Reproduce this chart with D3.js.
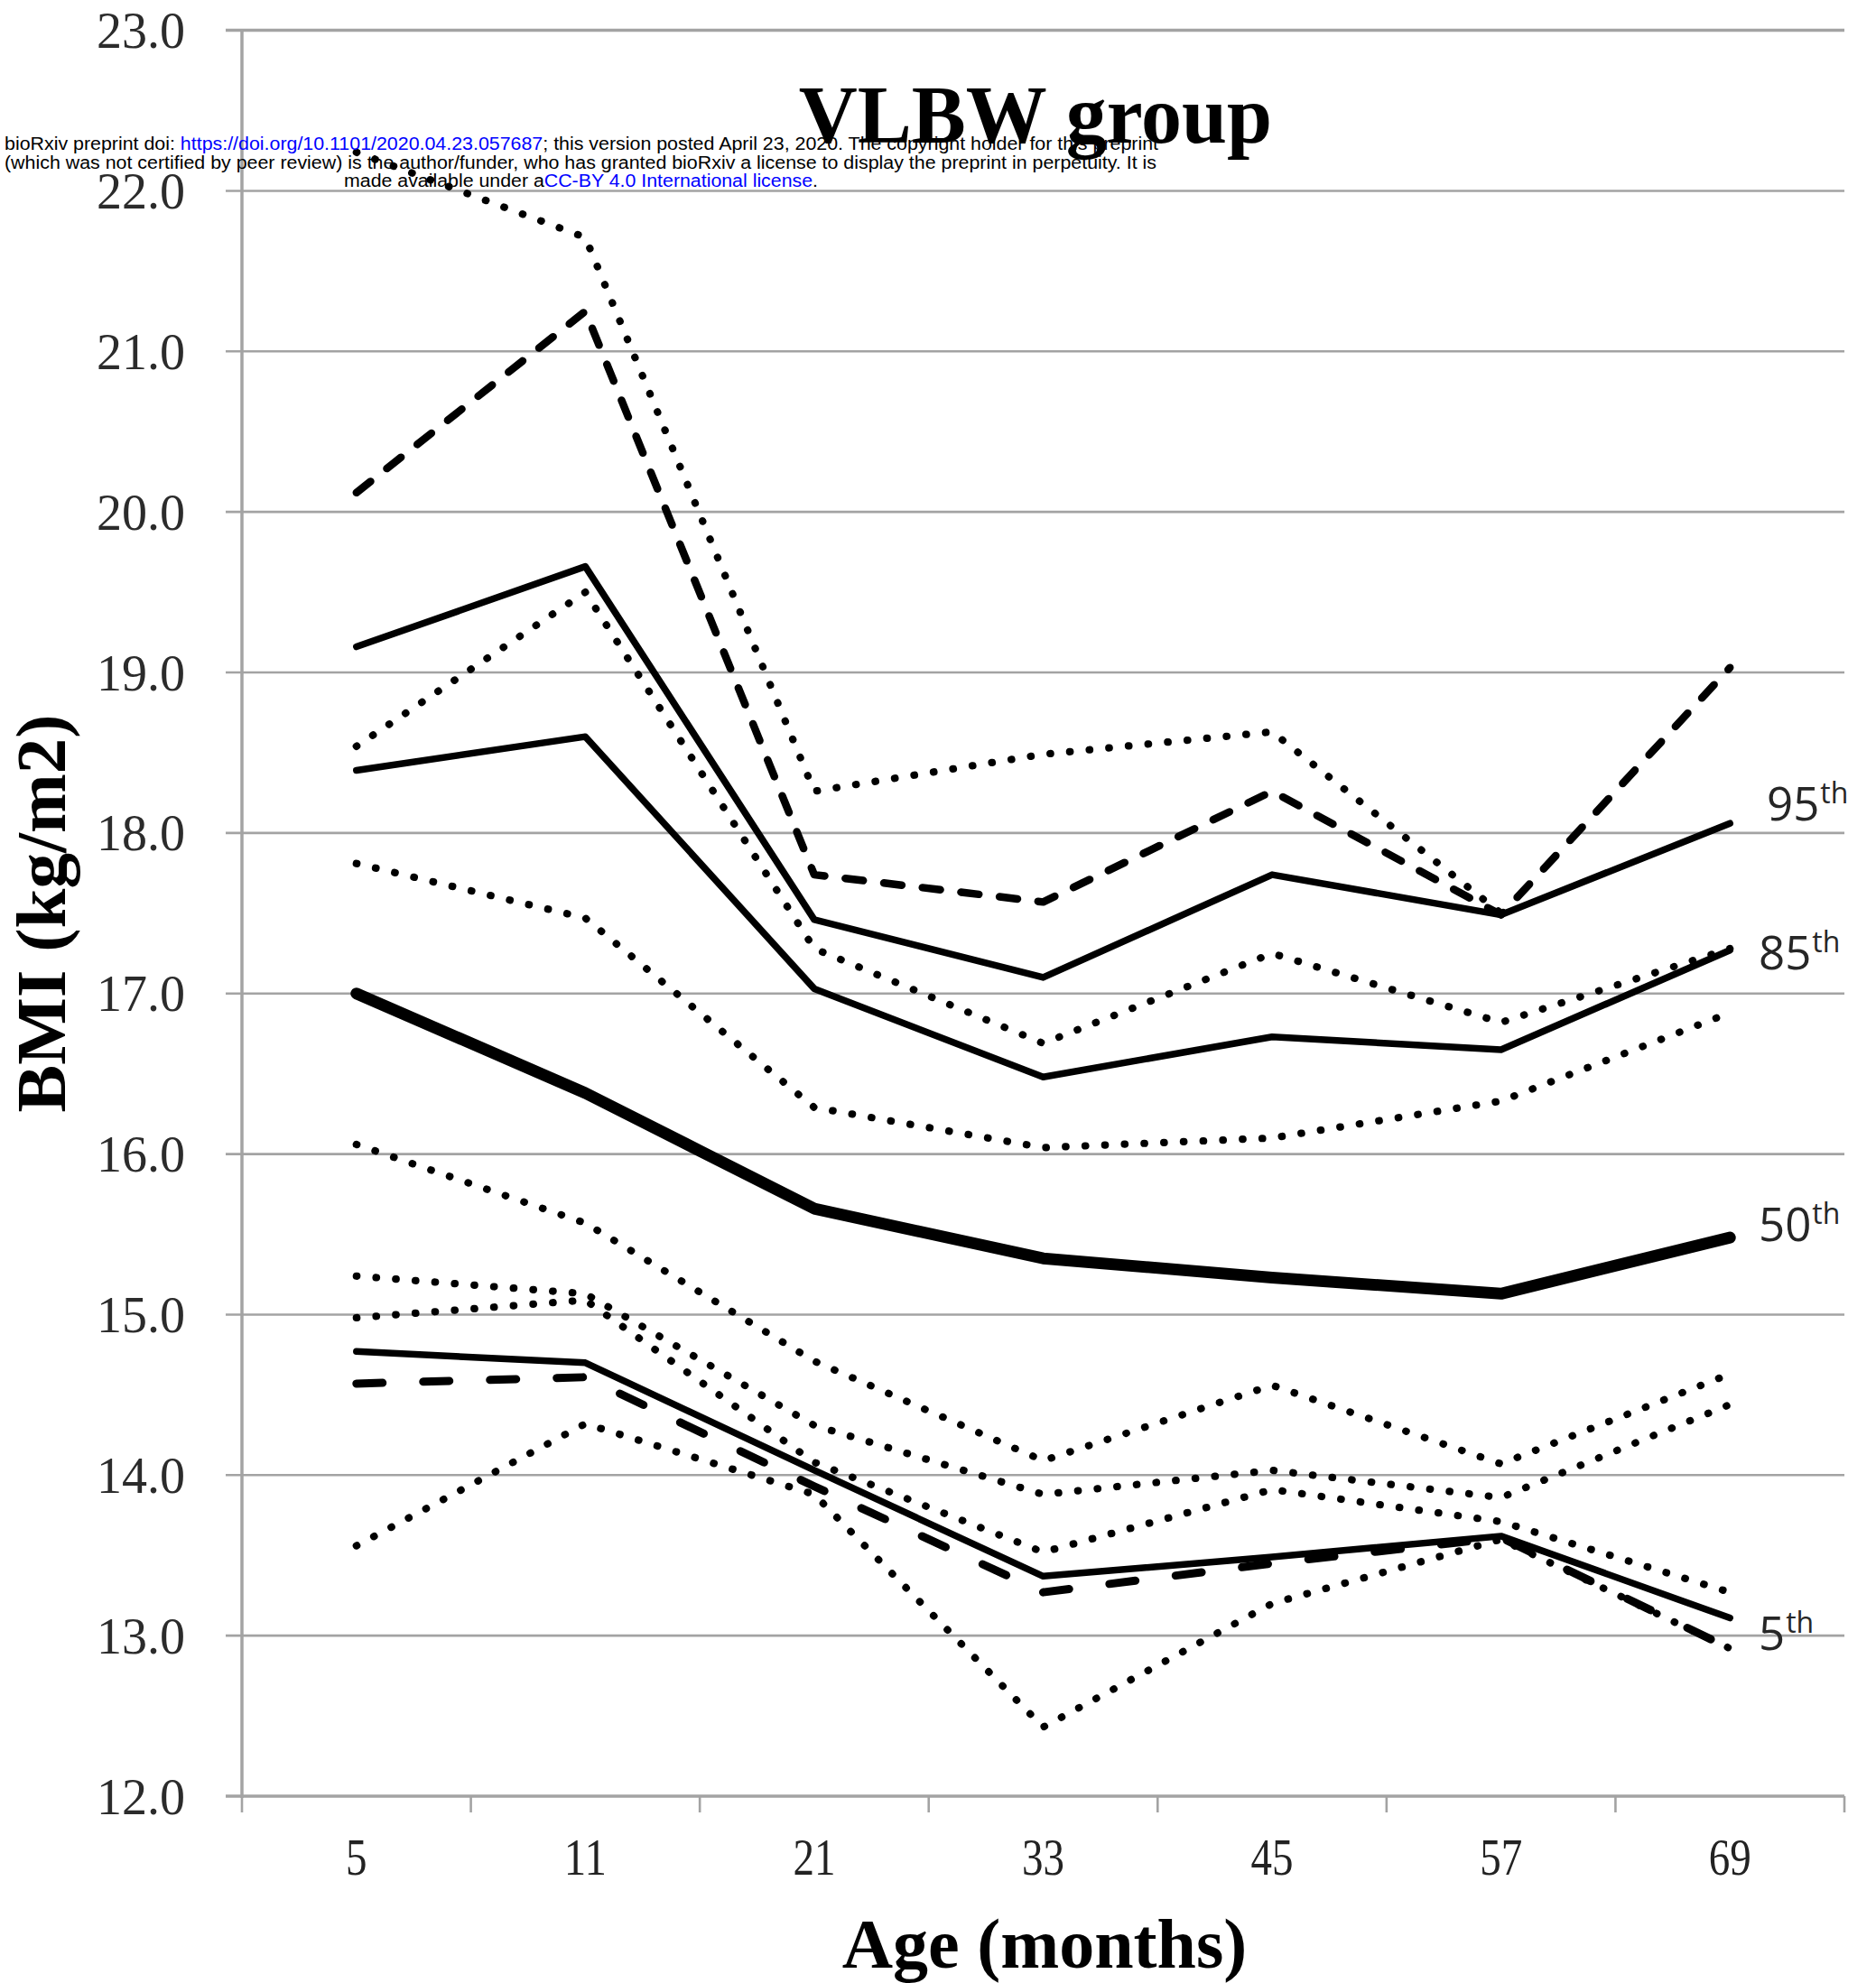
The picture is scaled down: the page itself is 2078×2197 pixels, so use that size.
<!DOCTYPE html>
<html>
<head>
<meta charset="utf-8">
<script src="https://cdn.jsdelivr.net/npm/d3@7"></script>
<style>
  body { margin: 0; background: #fff; }
  svg { display: block; }
</style>
</head>
<body>
<div id="chart"></div>
<script>
// ages on the x axis (months)
var ages = ["5", "11", "21", "33", "45", "57", "69"];
var yTicks = [12, 13, 14, 15, 16, 17, 18, 19, 20, 21, 22, 23];

// reference percentile curves (solid)
var p95 = [19.16, 19.66, 17.46, 17.10, 17.74, 17.49, 18.06];
var p85 = [18.39, 18.60, 17.03, 16.48, 16.73, 16.65, 17.27];
var p50 = [17.00, 16.38, 15.66, 15.35, 15.23, 15.13, 15.48];
var p5  = [14.77, 14.70, 14.03, 13.37, 13.49, 13.62, 13.11];

// dashed curves
var dashHigh = [20.12, 21.25, 17.74, 17.57, 18.26, 17.49, 19.03];
var dashLow  = [14.57, 14.61, 13.93, 13.27, 13.45, 13.61, 12.92];

// dotted curves
var dot1 = [22.24, 21.71, 18.26, 18.49, 18.63, 17.50, null];
var dot2 = [18.54, 19.50, 17.28, 16.69, 17.25, 16.82, 17.28];
var dot3 = [17.81, 17.47, 16.29, 16.04, 16.10, 16.33, 16.88];
var dot4 = [16.06, 15.57, 14.71, 14.09, 14.56, 14.07, 14.63];
var dot5 = [15.24, 15.13, 14.31, 13.88, 14.03, 13.86, 14.44];
var dot6 = [14.98, 15.09, 14.08, 13.52, 13.91, 13.71, 13.27];
var dot7 = [13.56, 14.32, 13.88, 12.43, 13.20, 13.60, 12.92];

// percentile labels on the right, placed at a BMI level
var pctNames = ["95", "85", "50", "5"];
var pctLevels = [18.08, 17.15, 15.46, 12.91];

var W = 2078, H = 2197;
var margin = { left: 268, right: 35, top: 33.6, bottom: 207 };

var svg = d3.select("#chart")
    .append("svg")
        .attr("width", W)
        .attr("height", H)
        .style("background", "#fff");

var x = d3.scaleBand()
    .domain(ages)
    .range([margin.left, W - margin.right]);

var y = d3.scaleLinear()
    .domain([12, 23])
    .range([H - margin.bottom, margin.top]);

var serif = "'Liberation Serif', 'Times New Roman', serif";
var gridColor = "#a3a3a3";

// gridlines (they also form the y ticks)
svg.append("g").selectAll("line")
    .data(yTicks)
    .enter()
    .append("line")
        .attr("x1", margin.left - 18)
        .attr("x2", W - margin.right)
        .attr("y1", function(d){ return y(d); })
        .attr("y2", function(d){ return y(d); })
        .attr("stroke", gridColor)
        .attr("stroke-width", function(d){ return (d == 12 || d == 23) ? 3.5 : 2.6; });

// y axis line
svg.append("line")
    .attr("x1", margin.left).attr("x2", margin.left)
    .attr("y1", y(23)).attr("y2", y(12) + 2)
    .attr("stroke", gridColor)
    .attr("stroke-width", 3.5);

// x ticks between categories
var xEdges = ages.map(function(d){ return x(d); }).concat([x(ages[ages.length - 1]) + x.bandwidth()]);
svg.append("g").selectAll("line")
    .data(xEdges)
    .enter()
    .append("line")
        .attr("x1", function(d){ return d; })
        .attr("x2", function(d){ return d; })
        .attr("y1", y(12))
        .attr("y2", y(12) + 18)
        .attr("stroke", gridColor)
        .attr("stroke-width", 2.6);

// y tick labels
svg.append("g").selectAll("text")
    .data(yTicks)
    .enter()
    .append("text")
        .attr("x", 205)
        .attr("y", function(d){ return y(d) + 19.5; })
        .attr("text-anchor", "end")
        .attr("font-family", serif)
        .attr("font-size", 56)
        .attr("fill", "#2b2b2b")
        .text(function(d){ return d.toFixed(1); });

// x tick labels
svg.append("g").selectAll("text")
    .data(ages)
    .enter()
    .append("text")
        .attr("x", function(d){ return x(d) + x.bandwidth() / 2; })
        .attr("y", 2077)
        .attr("text-anchor", "middle")
        .attr("font-family", serif)
        .attr("font-size", 56)
        .attr("fill", "#222")
        .attr("textLength", function(d){ return d.length * 23.5; })
        .attr("lengthAdjust", "spacingAndGlyphs")
        .text(function(d){ return d; });

// axis titles
svg.append("text")
    .attr("x", 1157)
    .attr("y", 2180)
    .attr("text-anchor", "middle")
    .attr("font-family", serif)
    .attr("font-weight", "bold")
    .attr("font-size", 78)
    .attr("fill", "#000")
    .text("Age (months)");

svg.append("text")
    .attr("transform", "translate(72,1012) rotate(-90)")
    .attr("text-anchor", "middle")
    .attr("font-family", serif)
    .attr("font-weight", "bold")
    .attr("font-size", 79)
    .attr("fill", "#000")
    .text("BMI (kg/m2)");

// chart title
svg.append("text")
    .attr("x", 1147)
    .attr("y", 158)
    .attr("text-anchor", "middle")
    .attr("font-family", serif)
    .attr("font-weight", "bold")
    .attr("font-size", 90)
    .attr("fill", "#000")
    .text("VLBW group");

// series lines
var line = d3.line()
    .defined(function(d){ return d != null; })
    .x(function(d, i){ return x(ages[i]) + x.bandwidth() / 2; })
    .y(function(d){ return y(d); });

var dotStyle = { width: 8.2, dash: "0.5,21.3", cap: "round" };
var series = [
    { values: dot1, style: dotStyle },
    { values: dot2, style: dotStyle },
    { values: dot3, style: dotStyle },
    { values: dot4, style: dotStyle },
    { values: dot5, style: dotStyle },
    { values: dot6, style: dotStyle },
    { values: dot7, style: dotStyle },
    { values: dashHigh, style: { width: 8.5, dash: "20,23", cap: "round" } },
    { values: dashLow,  style: { width: 9, dash: "29,45", cap: "round" } },
    { values: p95, style: { width: 7.5, dash: null, cap: "round" } },
    { values: p85, style: { width: 7.5, dash: null, cap: "round" } },
    { values: p50, style: { width: 13, dash: null, cap: "round" } },
    { values: p5,  style: { width: 7.5, dash: null, cap: "round" } }
];

svg.append("g").selectAll("path")
    .data(series)
    .enter()
    .append("path")
        .attr("d", function(d){ return line(d.values); })
        .attr("fill", "none")
        .attr("stroke", "#000")
        .attr("stroke-width", function(d){ return d.style.width; })
        .attr("stroke-dasharray", function(d){ return d.style.dash; })
        .attr("stroke-linecap", function(d){ return d.style.cap; })
        .attr("stroke-linejoin", "round");

// percentile labels
var sans = "'Open Sans', 'DejaVu Sans', sans-serif";
var lab = svg.append("g").selectAll("text")
    .data(pctNames)
    .enter()
    .append("text")
        .attr("x", function(d){ return d == "95" ? 1957 : 1948; })
        .attr("y", function(d, i){ return y(pctLevels[i]); })
        .attr("font-family", sans)
        .attr("font-size", 51)
        .attr("fill", "#262626");
lab.append("tspan").text(function(d){ return d; });
lab.append("tspan")
    .attr("font-size", 32)
    .attr("dy", -19)
    .attr("dx", 1)
    .text("th");

// bioRxiv stamp
var stamp = svg.append("g")
    .attr("font-family", "'Liberation Sans', Arial, sans-serif")
    .attr("font-size", 19.5)
    .attr("fill", "#000");

var l1 = stamp.append("text").attr("x", 5).attr("y", 166)
    .attr("textLength", 1278).attr("lengthAdjust", "spacingAndGlyphs");
l1.append("tspan").text("bioRxiv preprint doi: ");
l1.append("tspan").attr("fill", "#0000ff").text("https://doi.org/10.1101/2020.04.23.057687");
l1.append("tspan").text("; this version posted April 23, 2020. The copyright holder for this preprint");

stamp.append("text").attr("x", 5).attr("y", 187)
    .attr("textLength", 1276).attr("lengthAdjust", "spacingAndGlyphs")
    .text("(which was not certified by peer review) is the author/funder, who has granted bioRxiv a license to display the preprint in perpetuity. It is");

var l3 = stamp.append("text").attr("x", 381).attr("y", 207)
    .attr("textLength", 525).attr("lengthAdjust", "spacingAndGlyphs");
l3.append("tspan").text("made available under a");
l3.append("tspan").attr("fill", "#0000ff").text("CC-BY 4.0 International license");
l3.append("tspan").text(".");
</script>
</body>
</html>
